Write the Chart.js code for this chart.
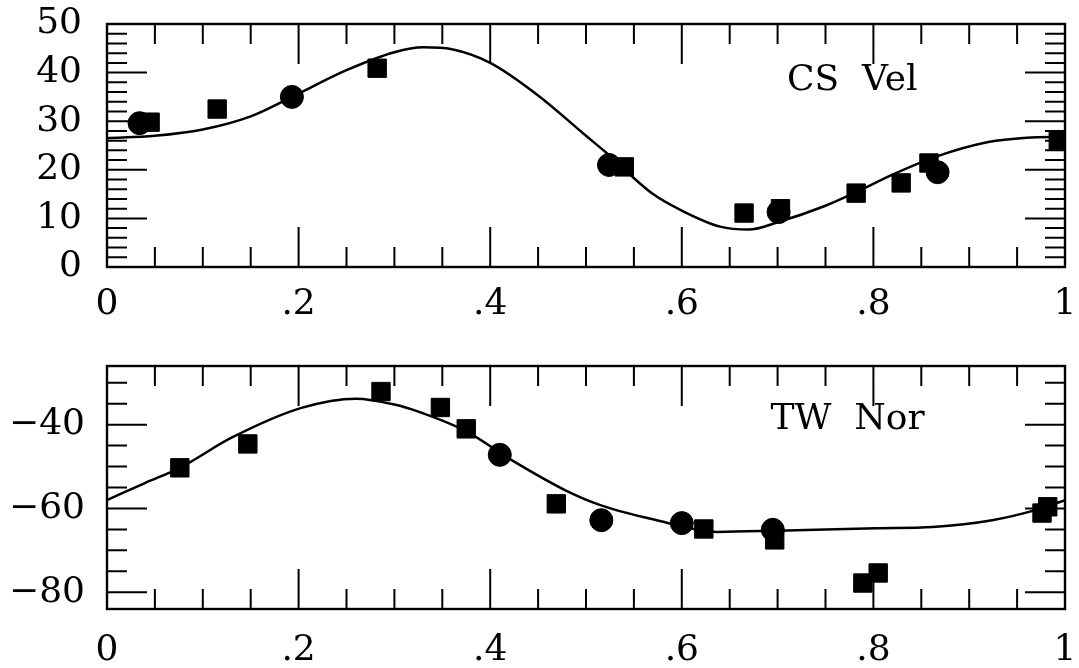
<!DOCTYPE html>
<html>
<head>
<meta charset="utf-8">
<title>CS Vel / TW Nor</title>
<script src="https://cdn.jsdelivr.net/npm/chart.js@4.4.0/dist/chart.umd.min.js"></script>
<style>
  html, body { margin: 0; padding: 0; background: #fff; }
  #wrap { position: relative; width: 1079px; height: 668px; }
  canvas { position: absolute; left: 0; }
  #topChart { top: 0; }
  #botChart { top: 334px; }
</style>
</head>
<body>
<div id="wrap">
  <canvas id="topChart" width="1079" height="334"></canvas>
  <canvas id="botChart" width="1079" height="334"></canvas>
</div>
<script>
// ---------- DATA ----------
const xTicks = [0, 0.2, 0.4, 0.6, 0.8, 1];
const xTickLabels = ["0", ".2", ".4", ".6", ".8", "1"];

// CS Vel (top)
const csYTicks = [0, 10, 20, 30, 40, 50];
const csCircleX = [0.034, 0.193, 0.524, 0.701, 0.867];
const csCircleY = [29.6, 35.0, 21.0, 11.3, 19.5];
const csSquareX = [0.045, 0.115, 0.282, 0.540, 0.665, 0.703, 0.782, 0.829, 0.858, 0.993];
const csSquareY = [29.8, 32.5, 40.9, 20.6, 11.1, 12.0, 15.2, 17.3, 21.4, 26.1];
const csCurveX = [0, 0.05, 0.10, 0.15, 0.193, 0.25, 0.30, 0.33, 0.36, 0.40, 0.45, 0.50, 0.52, 0.57, 0.60, 0.64, 0.67, 0.70, 0.75, 0.78, 0.82, 0.867, 0.92, 0.96, 1.0];
const csCurveY = [26.5, 27.0, 28.3, 31.0, 35.0, 40.5, 44.2, 45.2, 44.8, 42.0, 35.3, 27.0, 23.7, 15.0, 11.6, 8.3, 7.7, 9.2, 12.6, 15.2, 19.0, 22.8, 25.7, 26.6, 26.8];

// TW Nor (bottom)
const twYTicks = [-80, -60, -40];
const twCircleX = [0.410, 0.516, 0.600, 0.695];
const twCircleY = [-47.2, -62.8, -63.5, -65.1];
const twSquareX = [0.076, 0.147, 0.286, 0.348, 0.375, 0.469, 0.623, 0.697, 0.789, 0.805, 0.976, 0.982];
const twSquareY = [-50.3, -44.6, -32.1, -35.9, -41.0, -58.9, -64.9, -67.5, -77.8, -75.4, -61.1, -59.6];
const twCurveX = [0, 0.039, 0.076, 0.131, 0.203, 0.26, 0.30, 0.325, 0.375, 0.422, 0.478, 0.515, 0.574, 0.637, 0.70, 0.75, 0.803, 0.862, 0.924, 0.969, 1.0];
const twCurveY = [-58, -54, -50.3, -43, -36, -33.8, -35.2, -36.9, -41.6, -48.4, -55.6, -59.2, -62.8, -65.6, -65.3, -65.0, -64.7, -64.4, -62.8, -60.4, -58];

// ---------- HELPERS ----------
const FONT = "'DejaVu Serif', 'Liberation Serif', serif";
Chart.defaults.font.family = FONT;
Chart.defaults.color = "#000";

function pts(xs, ys) { return xs.map((x, i) => ({ x, y: ys[i] })); }
function isMultiple(v, step) { const r = v / step; return Math.abs(r - Math.round(r)) < 1e-6; }

// frame + inward ticks on all four sides, plus star name
const frameTicks = {
  id: "frameTicks",
  afterDraw(chart, args, o) {
    const { ctx, chartArea: a, scales: { x, y } } = chart;
    ctx.save();
    ctx.strokeStyle = "#000";
    ctx.lineWidth = 2.4;
    ctx.strokeRect(a.left, a.top, a.right - a.left, a.bottom - a.top);
    ctx.beginPath();
    ctx.lineWidth = 2;
    for (let v = Math.ceil(x.min / o.xMinor) * o.xMinor; v <= x.max + 1e-9; v += o.xMinor) {
      const px = x.getPixelForValue(v);
      const len = isMultiple(v, o.xMajor) ? 40 : 20;
      ctx.moveTo(px, a.bottom); ctx.lineTo(px, a.bottom - len);
      ctx.moveTo(px, a.top); ctx.lineTo(px, a.top + len);
    }
    for (let v = Math.ceil(y.min / o.yMinor) * o.yMinor; v <= y.max + 1e-9; v += o.yMinor) {
      const py = y.getPixelForValue(v);
      const len = isMultiple(v, o.yMajor) ? 40 : 20;
      ctx.moveTo(a.left, py); ctx.lineTo(a.left + len, py);
      ctx.moveTo(a.right, py); ctx.lineTo(a.right - len, py);
    }
    ctx.stroke();
    ctx.fillStyle = "#000";
    ctx.font = "36px " + FONT;
    ctx.textAlign = "center";
    ctx.textBaseline = "middle";
    ctx.fillText(o.label, x.getPixelForValue(o.labelX), y.getPixelForValue(o.labelY));
    ctx.restore();
  }
};

function makePanel(id, p) {
  return new Chart(document.getElementById(id), {
    type: "scatter",
    data: {
      datasets: [
        { data: pts(p.curveX, p.curveY), showLine: true, borderColor: "#000", borderWidth: 2.5,
          pointRadius: 0, cubicInterpolationMode: "monotone" },
        { data: pts(p.squareX, p.squareY), pointStyle: "rect", pointRadius: 13, borderWidth: 1,
          backgroundColor: "#000", borderColor: "#000" },
        { data: pts(p.circleX, p.circleY), pointStyle: "circle", pointRadius: 11.5, borderWidth: 1,
          backgroundColor: "#000", borderColor: "#000" }
      ]
    },
    options: {
      responsive: false,
      animation: false,
      events: [],
      layout: { padding: { top: p.padTop, right: 9, left: 0, bottom: 0 } },
      plugins: {
        legend: { display: false },
        tooltip: { enabled: false },
        frameTicks: p.frame
      },
      scales: {
        x: {
          type: "linear", min: 0, max: 1,
          grid: { display: false, drawTicks: false }, border: { display: false },
          afterBuildTicks: s => { s.ticks = xTicks.map(v => ({ value: v })); },
          afterFit: s => { s.height = p.xHeight; s.paddingLeft = 0; s.paddingRight = 0; },
          ticks: { padding: p.xPad, maxRotation: 0, autoSkip: false, font: { size: 36 },
            callback: (v, i) => xTickLabels[i] }
        },
        y: {
          type: "linear", min: p.yMin, max: p.yMax,
          grid: { display: false, drawTicks: false }, border: { display: false },
          afterBuildTicks: s => { s.ticks = p.yTicks.map(v => ({ value: v })); },
          afterFit: s => { s.width = 107; s.paddingTop = 0; s.paddingBottom = 0; },
          ticks: { padding: p.yPad, autoSkip: false, font: { size: 36 },
            callback: v => String(v).replace("-", "\u2212") }
        }
      }
    },
    plugins: [frameTicks]
  });
}

makePanel("topChart", {
  curveX: csCurveX, curveY: csCurveY, squareX: csSquareX, squareY: csSquareY,
  circleX: csCircleX, circleY: csCircleY, yTicks: csYTicks,
  yMin: 0, yMax: 50, padTop: 24, xHeight: 67, xPad: 16, yPad: 25,
  frame: { xMinor: 0.05, xMajor: 0.2, yMinor: 2, yMajor: 10, label: "CS  Vel", labelX: 0.778, labelY: 38.3 }
});

makePanel("botChart", {
  curveX: twCurveX, curveY: twCurveY, squareX: twSquareX, squareY: twSquareY,
  circleX: twCircleX, circleY: twCircleY, yTicks: twYTicks,
  yMin: -84, yMax: -26, padTop: 32, xHeight: 59, xPad: 20, yPad: 22,
  frame: { xMinor: 0.05, xMajor: 0.2, yMinor: 5, yMajor: 20, label: "TW  Nor", labelX: 0.773, labelY: -38.8 }
});
</script>
</body>
</html>
